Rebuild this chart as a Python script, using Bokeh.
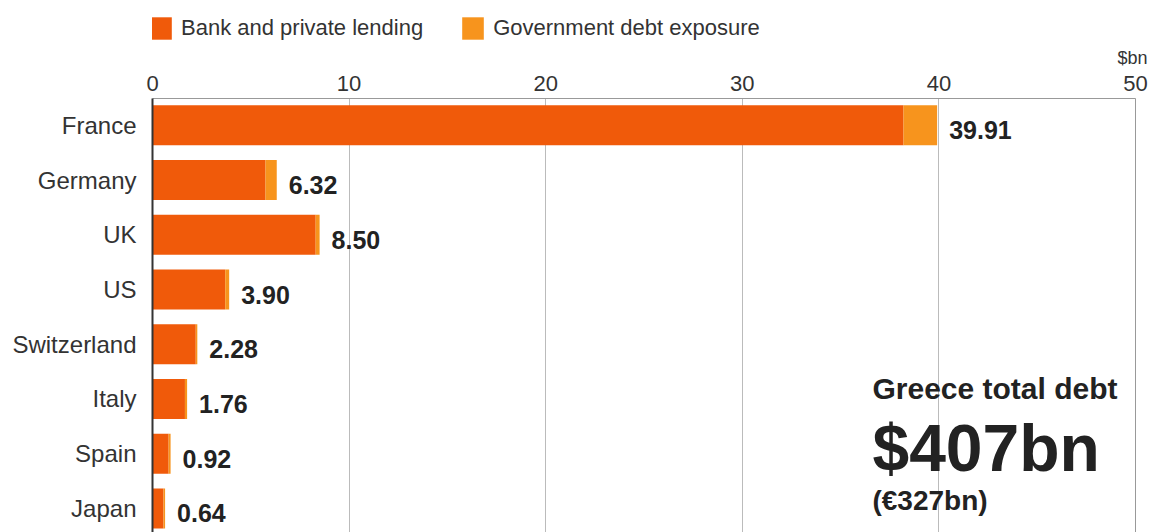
from bokeh.plotting import figure
from bokeh.layouts import column
from bokeh.models import (Range1d, FixedTicker, Title, Legend, LegendItem, ColumnDataSource,
                          Label, LinearAxis)
from bokeh.embed import file_html
from bokeh.resources import INLINE
from bokeh.core.properties import value

# ---- data ----
countries = ["France", "Germany", "UK", "US", "Switzerland", "Italy", "Spain", "Japan"]
totals = [39.91, 6.32, 8.50, 3.90, 2.28, 1.76, 0.92, 0.64]
government = [1.71, 0.57, 0.20, 0.20, 0.08, 0.11, 0.10, 0.08]
bank = [round(t - g, 2) for t, g in zip(totals, government)]
x_ticks = [0, 10, 20, 30, 40, 50]
series_names = ["Bank and private lending", "Government debt exposure"]
series_colors = ["#F05A0A", "#F7941D"]
unit_label = "$bn"
headline = ["Greece total debt", "$407bn", "(€327bn)"]

FONT = "Liberation Sans"
TOP_H = 40
rows = list(range(len(countries)))
src = ColumnDataSource(dict(y=rows, bank=bank, total=totals,
                            label=[f"{t:.2f}" for t in totals]))

# ---- legend strip (its bars lie far outside its visible range; only the legend shows) ----
top = figure(width=1156, height=TOP_H, x_range=Range1d(0, 50), y_range=Range1d(500, 510),
             x_axis_location=None, y_axis_location=None, output_backend="svg",
             toolbar_location=None, min_border=0)
top.outline_line_color = None
top.xgrid.visible = False
top.ygrid.visible = False
l1 = top.hbar(y="y", left=0, right="bank", height=0.73, source=src,
              fill_color=series_colors[0], line_color=None)
l2 = top.hbar(y="y", left="bank", right="total", height=0.73, source=src,
              fill_color=series_colors[1], line_color=None)
legend = Legend(items=[LegendItem(label=series_names[0], renderers=[l1]),
                       LegendItem(label=series_names[1], renderers=[l2])],
                orientation="horizontal", location=(-5, -2), padding=0, margin=0,
                spacing=36, glyph_width=27, glyph_height=28, label_standoff=7,
                label_height=23,
                label_text_font=FONT, label_text_font_size="22px", label_text_color="#333333",
                background_fill_alpha=0, border_line_color=None)
top.add_layout(legend)

# ---- main chart ----
p = figure(width=1156, height=532 - TOP_H, x_range=Range1d(0, 50),
           y_range=Range1d(7.44, -0.49),
           x_axis_location="above", output_backend="svg", toolbar_location=None,
           min_border_left=152, min_border_right=21, min_border_top=98 - TOP_H,
           min_border_bottom=0)
p.outline_line_color = None

r1 = p.hbar(y="y", left=0, right="bank", height=0.73, source=src,
            fill_color=series_colors[0], line_color=None)
r2 = p.hbar(y="y", left="bank", right="total", height=0.73, source=src,
            fill_color=series_colors[1], line_color=None)

p.text(x="total", y="y", text="label", x_offset=12, y_offset=5, text_baseline="middle",
       text_font=value(FONT), text_font_style="bold", text_font_size="25px",
       text_color="#222222", source=src)

xa = p.xaxis[0]
xa.ticker = FixedTicker(ticks=x_ticks)
xa.major_tick_line_color = None
xa.minor_tick_line_color = None
xa.axis_line_color = "#999999"
xa.major_label_standoff = 2
xa.major_label_text_font = FONT
xa.major_label_text_font_size = "22px"
xa.major_label_text_color = "#333333"

ya = p.yaxis[0]
ya.ticker = FixedTicker(ticks=rows)
ya.major_label_overrides = {i: c for i, c in enumerate(countries)}
ya.major_tick_line_color = None
ya.minor_tick_line_color = None
ya.axis_line_color = "#333333"
ya.axis_line_width = 2
ya.major_label_standoff = 10
ya.major_label_text_font = FONT
ya.major_label_text_font_size = "24px"
ya.major_label_text_color = "#333333"

# right-hand frame border
right_axis = LinearAxis(ticker=FixedTicker(ticks=[]), axis_line_color="#999999",
                        major_tick_line_color=None, minor_tick_line_color=None,
                        major_label_standoff=0, major_label_text_font_size="1px")
p.add_layout(right_axis, "right")

p.xgrid.grid_line_color = "#BBBBBB"
p.ygrid.grid_line_color = None

unit_title = Title(text=unit_label, align="right", offset=-12, text_font=FONT,
                   text_font_size="18px", text_font_style="normal", text_color="#333333",
                   standoff=10)
p.add_layout(unit_title, "above")

p.add_layout(Label(x=36.62, y=4.81, text=headline[0], text_baseline="middle",
                   text_font=FONT, text_font_style="bold", text_font_size="30px",
                   text_color="#222222"))
p.add_layout(Label(x=36.62, y=5.89, text=headline[1], text_baseline="middle",
                   text_font=FONT, text_font_style="bold", text_font_size="66px",
                   text_color="#222222"))
p.add_layout(Label(x=36.62, y=6.86, text=headline[2], text_baseline="middle",
                   text_font=FONT, text_font_style="bold", text_font_size="28px",
                   text_color="#222222"))

layout = column(top, p, spacing=0)
open("out.html", "w").write(file_html(layout, INLINE))
